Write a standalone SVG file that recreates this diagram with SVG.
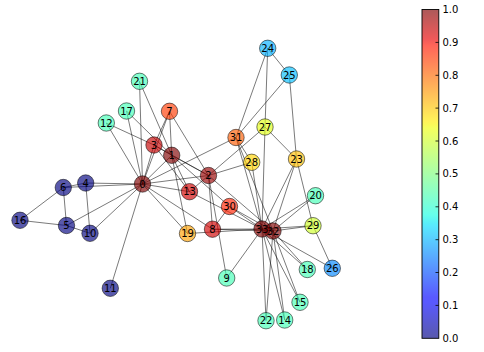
<svg xmlns="http://www.w3.org/2000/svg" width="484" height="352" viewBox="0 0 484 352">
<defs>
<linearGradient id="jet" x1="0" y1="1" x2="0" y2="0">
<stop offset="0" stop-color="#000080"/>
<stop offset="0.11" stop-color="#0000ff"/>
<stop offset="0.125" stop-color="#0000ff"/>
<stop offset="0.34" stop-color="#00dbff"/>
<stop offset="0.35" stop-color="#00e6f7"/>
<stop offset="0.375" stop-color="#14ffe2"/>
<stop offset="0.64" stop-color="#efff08"/>
<stop offset="0.65" stop-color="#f7f500"/>
<stop offset="0.66" stop-color="#ffec00"/>
<stop offset="0.89" stop-color="#ff1300"/>
<stop offset="0.91" stop-color="#e80000"/>
<stop offset="1" stop-color="#800000"/>
</linearGradient>
<style>
.e line{stroke:#000;stroke-opacity:0.62;stroke-width:0.85}
.n circle{r:8.2;fill-opacity:0.65;stroke:#000;stroke-opacity:0.65;stroke-width:0.8}
.n text,.cb text{font-family:"DejaVu Sans",sans-serif;font-size:10px;fill:#000}
.n text{text-anchor:middle;dominant-baseline:central}
.cb text{dominant-baseline:central}
.cb line{stroke:#000;stroke-width:0.8}
.c0{fill:#000080}.cR{fill:#800000}.cR2{fill:#960000}.cR3{fill:#c50000}.cR4{fill:#d10000}
.c7{fill:#ff3900}.c30{fill:#ff2100}.c31{fill:#ff5b00}.c19{fill:#ffa200}.c23{fill:#ffbf00}
.c28{fill:#ffd400}.c27{fill:#e2ff14}.c29{fill:#ceff29}.cM{fill:#42ffb5}
.c24{fill:#00b0ff}.c25{fill:#00bfff}.c26{fill:#0086ff}
</style>
</defs>
<rect width="484" height="352" fill="#fff"/>
<g id="edges" class="e">
<line x1="142.5" y1="184" x2="171.7" y2="155.3"/>
<line x1="142.5" y1="184" x2="208.5" y2="175.5"/>
<line x1="142.5" y1="184" x2="154" y2="145"/>
<line x1="142.5" y1="184" x2="85.7" y2="183"/>
<line x1="142.5" y1="184" x2="66.5" y2="225.5"/>
<line x1="142.5" y1="184" x2="63.3" y2="187.5"/>
<line x1="142.5" y1="184" x2="169.5" y2="111.3"/>
<line x1="142.5" y1="184" x2="212.5" y2="229.2"/>
<line x1="142.5" y1="184" x2="90" y2="233.3"/>
<line x1="142.5" y1="184" x2="110.3" y2="288.3"/>
<line x1="142.5" y1="184" x2="106.3" y2="123"/>
<line x1="142.5" y1="184" x2="189.5" y2="191.7"/>
<line x1="142.5" y1="184" x2="126.5" y2="111"/>
<line x1="142.5" y1="184" x2="187.5" y2="233.5"/>
<line x1="142.5" y1="184" x2="139.5" y2="81.3"/>
<line x1="142.5" y1="184" x2="236" y2="137.5"/>
<line x1="171.7" y1="155.3" x2="208.5" y2="175.5"/>
<line x1="171.7" y1="155.3" x2="154" y2="145"/>
<line x1="171.7" y1="155.3" x2="169.5" y2="111.3"/>
<line x1="171.7" y1="155.3" x2="189.5" y2="191.7"/>
<line x1="171.7" y1="155.3" x2="126.5" y2="111"/>
<line x1="171.7" y1="155.3" x2="187.5" y2="233.5"/>
<line x1="171.7" y1="155.3" x2="139.5" y2="81.3"/>
<line x1="171.7" y1="155.3" x2="229.5" y2="206.5"/>
<line x1="208.5" y1="175.5" x2="154" y2="145"/>
<line x1="208.5" y1="175.5" x2="169.5" y2="111.3"/>
<line x1="208.5" y1="175.5" x2="212.5" y2="229.2"/>
<line x1="208.5" y1="175.5" x2="226.7" y2="278"/>
<line x1="208.5" y1="175.5" x2="189.5" y2="191.7"/>
<line x1="208.5" y1="175.5" x2="265" y2="127"/>
<line x1="208.5" y1="175.5" x2="251.7" y2="162.3"/>
<line x1="208.5" y1="175.5" x2="273" y2="231"/>
<line x1="154" y1="145" x2="169.5" y2="111.3"/>
<line x1="154" y1="145" x2="106.3" y2="123"/>
<line x1="154" y1="145" x2="189.5" y2="191.7"/>
<line x1="85.7" y1="183" x2="63.3" y2="187.5"/>
<line x1="85.7" y1="183" x2="90" y2="233.3"/>
<line x1="66.5" y1="225.5" x2="63.3" y2="187.5"/>
<line x1="66.5" y1="225.5" x2="90" y2="233.3"/>
<line x1="66.5" y1="225.5" x2="20" y2="220.3"/>
<line x1="63.3" y1="187.5" x2="20" y2="220.3"/>
<line x1="212.5" y1="229.2" x2="229.5" y2="206.5"/>
<line x1="212.5" y1="229.2" x2="273" y2="231"/>
<line x1="212.5" y1="229.2" x2="262" y2="229"/>
<line x1="226.7" y1="278" x2="262" y2="229"/>
<line x1="189.5" y1="191.7" x2="262" y2="229"/>
<line x1="284.7" y1="320" x2="273" y2="231"/>
<line x1="284.7" y1="320" x2="262" y2="229"/>
<line x1="300" y1="302.3" x2="273" y2="231"/>
<line x1="300" y1="302.3" x2="262" y2="229"/>
<line x1="307.3" y1="269.5" x2="273" y2="231"/>
<line x1="307.3" y1="269.5" x2="262" y2="229"/>
<line x1="187.5" y1="233.5" x2="262" y2="229"/>
<line x1="315.5" y1="195.7" x2="273" y2="231"/>
<line x1="315.5" y1="195.7" x2="262" y2="229"/>
<line x1="266" y1="320.7" x2="273" y2="231"/>
<line x1="266" y1="320.7" x2="262" y2="229"/>
<line x1="296.5" y1="159" x2="289.3" y2="75"/>
<line x1="296.5" y1="159" x2="265" y2="127"/>
<line x1="296.5" y1="159" x2="313" y2="225.7"/>
<line x1="296.5" y1="159" x2="273" y2="231"/>
<line x1="296.5" y1="159" x2="262" y2="229"/>
<line x1="267.7" y1="48.3" x2="289.3" y2="75"/>
<line x1="267.7" y1="48.3" x2="265" y2="127"/>
<line x1="267.7" y1="48.3" x2="236" y2="137.5"/>
<line x1="289.3" y1="75" x2="236" y2="137.5"/>
<line x1="332.3" y1="268.3" x2="313" y2="225.7"/>
<line x1="332.3" y1="268.3" x2="262" y2="229"/>
<line x1="265" y1="127" x2="262" y2="229"/>
<line x1="251.7" y1="162.3" x2="236" y2="137.5"/>
<line x1="251.7" y1="162.3" x2="262" y2="229"/>
<line x1="313" y1="225.7" x2="273" y2="231"/>
<line x1="313" y1="225.7" x2="262" y2="229"/>
<line x1="229.5" y1="206.5" x2="273" y2="231"/>
<line x1="229.5" y1="206.5" x2="262" y2="229"/>
<line x1="236" y1="137.5" x2="273" y2="231"/>
<line x1="236" y1="137.5" x2="262" y2="229"/>
<line x1="273" y1="231" x2="262" y2="229"/>
</g>
<g id="node0" class="n"><circle cx="142.5" cy="184" class="cR"/><text x="142.5" y="184">0</text></g>
<g id="node1" class="n"><circle cx="171.7" cy="155.3" class="cR"/><text x="171.7" y="155.3">1</text></g>
<g id="node2" class="n"><circle cx="208.5" cy="175.5" class="cR2"/><text x="208.5" y="175.5">2</text></g>
<g id="node3" class="n"><circle cx="154" cy="145" class="cR3"/><text x="154" y="145">3</text></g>
<g id="node4" class="n"><circle cx="85.7" cy="183" class="c0"/><text x="85.7" y="183">4</text></g>
<g id="node5" class="n"><circle cx="66.5" cy="225.5" class="c0"/><text x="66.5" y="225.5">5</text></g>
<g id="node6" class="n"><circle cx="63.3" cy="187.5" class="c0"/><text x="63.3" y="187.5">6</text></g>
<g id="node7" class="n"><circle cx="169.5" cy="111.3" class="c7"/><text x="169.5" y="111.3">7</text></g>
<g id="node8" class="n"><circle cx="212.5" cy="229.2" class="cR4"/><text x="212.5" y="229.2">8</text></g>
<g id="node9" class="n"><circle cx="226.7" cy="278" class="cM"/><text x="226.7" y="278">9</text></g>
<g id="node10" class="n"><circle cx="90" cy="233.3" class="c0"/><text x="90" y="233.3">10</text></g>
<g id="node11" class="n"><circle cx="110.3" cy="288.3" class="c0"/><text x="110.3" y="288.3">11</text></g>
<g id="node12" class="n"><circle cx="106.3" cy="123" class="cM"/><text x="106.3" y="123">12</text></g>
<g id="node13" class="n"><circle cx="189.5" cy="191.7" class="cR4"/><text x="189.5" y="191.7">13</text></g>
<g id="node14" class="n"><circle cx="284.7" cy="320" class="cM"/><text x="284.7" y="320">14</text></g>
<g id="node15" class="n"><circle cx="300" cy="302.3" class="cM"/><text x="300" y="302.3">15</text></g>
<g id="node16" class="n"><circle cx="20" cy="220.3" class="c0"/><text x="20" y="220.3">16</text></g>
<g id="node17" class="n"><circle cx="126.5" cy="111" class="cM"/><text x="126.5" y="111">17</text></g>
<g id="node18" class="n"><circle cx="307.3" cy="269.5" class="cM"/><text x="307.3" y="269.5">18</text></g>
<g id="node19" class="n"><circle cx="187.5" cy="233.5" class="c19"/><text x="187.5" y="233.5">19</text></g>
<g id="node20" class="n"><circle cx="315.5" cy="195.7" class="cM"/><text x="315.5" y="195.7">20</text></g>
<g id="node21" class="n"><circle cx="139.5" cy="81.3" class="cM"/><text x="139.5" y="81.3">21</text></g>
<g id="node22" class="n"><circle cx="266" cy="320.7" class="cM"/><text x="266" y="320.7">22</text></g>
<g id="node23" class="n"><circle cx="296.5" cy="159" class="c23"/><text x="296.5" y="159">23</text></g>
<g id="node24" class="n"><circle cx="267.7" cy="48.3" class="c24"/><text x="267.7" y="48.3">24</text></g>
<g id="node25" class="n"><circle cx="289.3" cy="75" class="c25"/><text x="289.3" y="75">25</text></g>
<g id="node26" class="n"><circle cx="332.3" cy="268.3" class="c26"/><text x="332.3" y="268.3">26</text></g>
<g id="node27" class="n"><circle cx="265" cy="127" class="c27"/><text x="265" y="127">27</text></g>
<g id="node28" class="n"><circle cx="251.7" cy="162.3" class="c28"/><text x="251.7" y="162.3">28</text></g>
<g id="node29" class="n"><circle cx="313" cy="225.7" class="c29"/><text x="313" y="225.7">29</text></g>
<g id="node30" class="n"><circle cx="229.5" cy="206.5" class="c30"/><text x="229.5" y="206.5">30</text></g>
<g id="node31" class="n"><circle cx="236" cy="137.5" class="c31"/><text x="236" y="137.5">31</text></g>
<g id="node32" class="n"><circle cx="273" cy="231" class="cR"/><text x="273" y="231">32</text></g>
<g id="node33" class="n"><circle cx="262" cy="229" class="cR"/><text x="262" y="229">33</text></g>
<g id="colorbar" class="cb">
<rect x="422" y="9.5" width="16.8" height="328.8" fill="url(#jet)" fill-opacity="0.65"/>
<rect x="422" y="9.5" width="16.8" height="328.8" fill="none" stroke="#000" stroke-width="0.9"/>
<line x1="435.5" y1="305.4" x2="438.8" y2="305.4"/>
<line x1="435.5" y1="272.5" x2="438.8" y2="272.5"/>
<line x1="435.5" y1="239.7" x2="438.8" y2="239.7"/>
<line x1="435.5" y1="206.8" x2="438.8" y2="206.8"/>
<line x1="435.5" y1="173.9" x2="438.8" y2="173.9"/>
<line x1="435.5" y1="141.0" x2="438.8" y2="141.0"/>
<line x1="435.5" y1="108.1" x2="438.8" y2="108.1"/>
<line x1="435.5" y1="75.3" x2="438.8" y2="75.3"/>
<line x1="435.5" y1="42.4" x2="438.8" y2="42.4"/>
<text x="442.5" y="338.3">0.0</text>
<text x="442.5" y="305.4">0.1</text>
<text x="442.5" y="272.5">0.2</text>
<text x="442.5" y="239.7">0.3</text>
<text x="442.5" y="206.8">0.4</text>
<text x="442.5" y="173.9">0.5</text>
<text x="442.5" y="141.0">0.6</text>
<text x="442.5" y="108.1">0.7</text>
<text x="442.5" y="75.3">0.8</text>
<text x="442.5" y="42.4">0.9</text>
<text x="442.5" y="9.5">1.0</text>
</g>
</svg>
